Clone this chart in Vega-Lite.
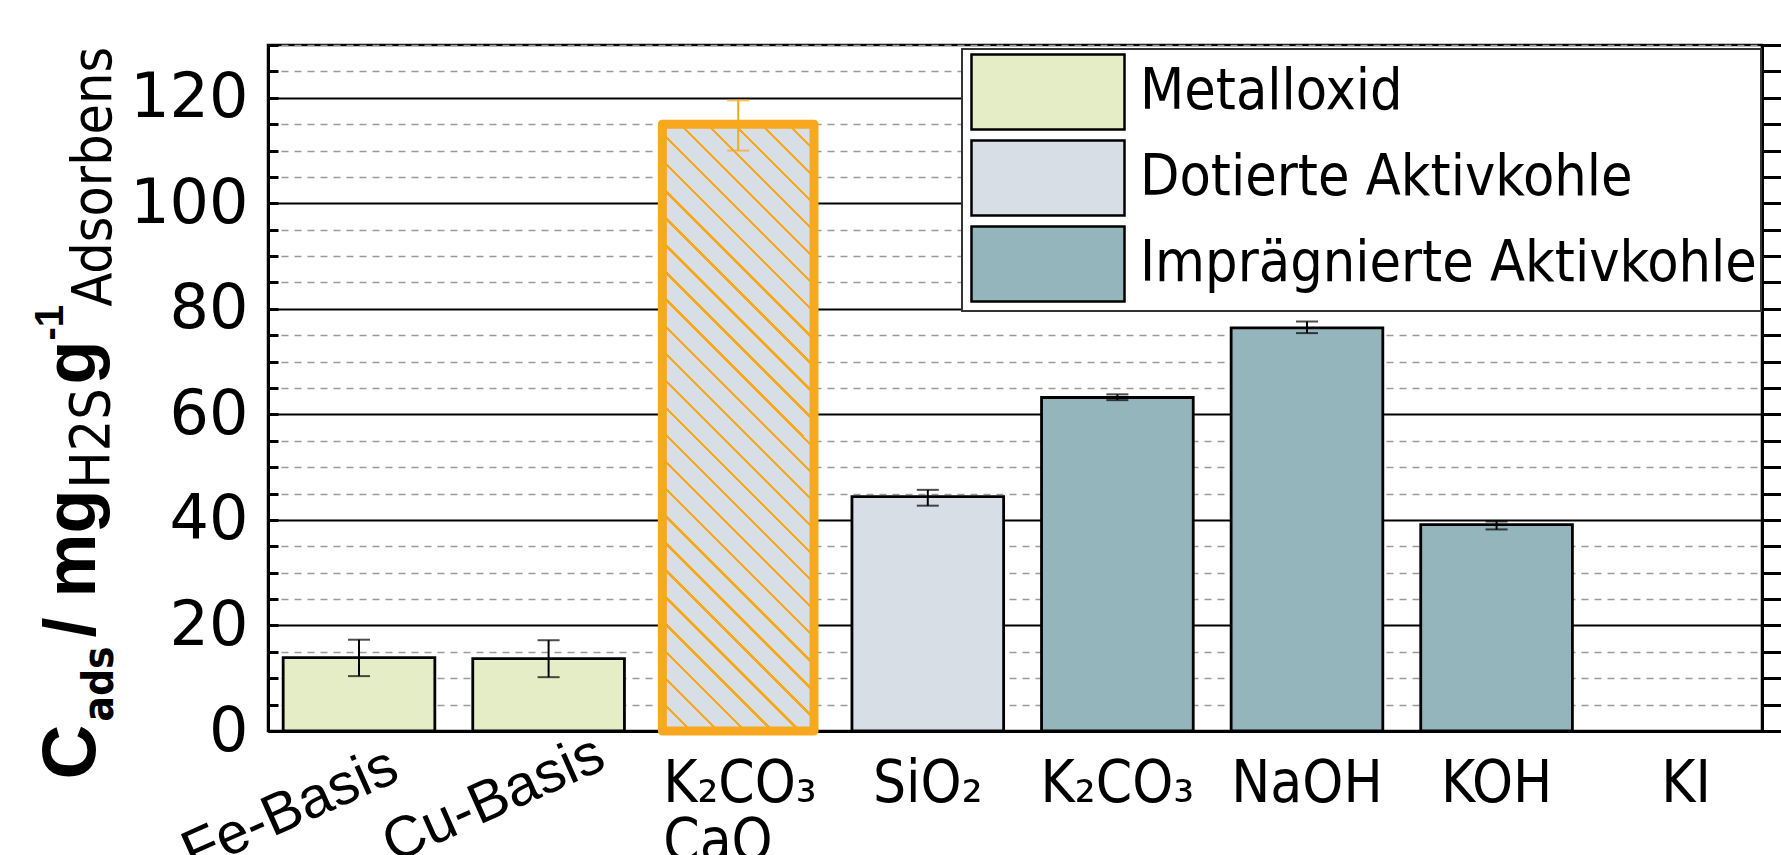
{
  "$schema": "https://vega.github.io/schema/vega-lite/v6.json",
  "width": 1494,
  "height": 686,
  "autosize": {"type": "none"},
  "padding": {"left": 268, "top": 45, "right": 19, "bottom": 124},
  "background": "white",
  "config": {"view": {"stroke": "black", "strokeWidth": 2.5}, "font": "DejaVu Sans"},
  "data": {
    "values": [
      {"Material": "Fe-Basis", "Gruppe": "Metalloxid", "Wert": 13.9, "Min": 10.4, "Max": 17.3},
      {"Material": "Cu-Basis", "Gruppe": "Metalloxid", "Wert": 13.7, "Min": 10.2, "Max": 17.2},
      {"Material": "K₂CO₃ CaO", "Gruppe": "Dotierte Aktivkohle", "Wert": 115.0, "Min": 110.0, "Max": 119.5},
      {"Material": "SiO₂", "Gruppe": "Dotierte Aktivkohle", "Wert": 44.4, "Min": 42.7, "Max": 45.7},
      {"Material": "K₂CO₃", "Gruppe": "Imprägnierte Aktivkohle", "Wert": 63.2, "Min": 62.7, "Max": 63.8},
      {"Material": "NaOH", "Gruppe": "Imprägnierte Aktivkohle", "Wert": 76.4, "Min": 75.4, "Max": 77.6},
      {"Material": "KOH", "Gruppe": "Imprägnierte Aktivkohle", "Wert": 39.1, "Min": 38.2, "Max": 39.7},
      {"Material": "KI", "Gruppe": "Imprägnierte Aktivkohle", "Wert": null, "Min": null, "Max": null}
    ]
  },
  "resolve": {"scale": {"x": "shared", "y": "shared"}, "axis": {"x": "independent", "y": "independent"}},
  "layer": [
    {
      "mark": {"type": "bar", "stroke": "black", "strokeWidth": 2.8},
      "encoding": {
        "x": {
          "field": "Material", "type": "nominal", "sort": null,
          "scale": {"domain": ["Fe-Basis", "Cu-Basis", "K₂CO₃ CaO", "SiO₂", "K₂CO₃", "NaOH", "KOH", "KI"], "paddingInner": 0.2, "paddingOuter": 0.04, "align": 1},
          "axis": {
            "orient": "bottom", "title": null, "ticks": false, "grid": false,
            "domain": true, "domainColor": "black", "domainWidth": 3,
            "labelFont": {"condition": {"test": "datum.value === 'Fe-Basis' || datum.value === 'Cu-Basis'", "value": "Liberation Sans"}, "value": "DejaVu Sans Condensed, sans-serif"},
            "labelFontSize": 58, "labelColor": "black", "labelLineHeight": 58,
            "labelLimit": 1000, "labelOverlap": false,
            "labelExpr": "split(datum.label, ' ')",
            "labelAngle": {"expr": "(datum.value === 'Fe-Basis' || datum.value === 'Cu-Basis') ? -24 : 0"},
            "labelBaseline": "top",
            "labelAlign": {"condition": [{"test": "datum.value === 'Fe-Basis' || datum.value === 'Cu-Basis'", "value": "right"}, {"test": "datum.value === 'K₂CO₃ CaO'", "value": "left"}], "value": "center"},
            "labelOffset": {"condition": [{"test": "datum.value === 'Fe-Basis'", "value": 24}, {"test": "datum.value === 'Cu-Basis'", "value": 41}, {"test": "datum.value === 'K₂CO₃ CaO'", "value": -75}], "value": 0},
            "labelPadding": {"condition": [{"test": "datum.value === 'Fe-Basis'", "value": 6}, {"test": "datum.value === 'Cu-Basis'", "value": -6}], "value": 24}
          }
        },
        "y": {
          "field": "Wert", "type": "quantitative",
          "scale": {"domain": [0, 130], "nice": false},
          "axis": {
            "orient": "left",
            "values": [0, 5, 10, 15, 20, 25, 30, 35, 40, 45, 50, 55, 60, 65, 70, 75, 80, 85, 90, 95, 100, 105, 110, 115, 120, 125, 130],
            "labelExpr": "datum.value % 20 === 0 ? datum.label : ''",
            "labelFont": "DejaVu Sans", "labelFontSize": 62, "labelColor": "black", "labelPadding": 30,
            "labelOverlap": false, "labelFlush": false,
            "tickSize": -10, "tickWidth": 3, "tickColor": "black",
            "domainColor": "black", "domainWidth": 3,
            "grid": true,
            "gridColor": {"condition": {"test": "datum.value % 20 === 0", "value": "black"}, "value": "#9a9a9a"},
            "gridDash": {"condition": {"test": "datum.value % 20 === 0", "value": []}, "value": [7, 6]},
            "gridWidth": {"condition": {"test": "datum.value % 20 === 0", "value": 2}, "value": 1.5},
            "title": "C", "titleX": -174, "titleY": 734, "titleAngle": 270, "titleAlign": "left", "titleBaseline": "alphabetic",
            "titleFont": "Liberation Sans", "titleFontWeight": "bold", "titleFontSize": 76, "titleColor": "black"
          }
        },
        "color": {
          "field": "Gruppe", "type": "nominal",
          "scale": {"domain": ["Metalloxid", "Dotierte Aktivkohle", "Imprägnierte Aktivkohle"], "range": ["#e5edc7", "#d7dee6", "#95b5bd"]},
          "legend": {
            "orient": "none", "legendX": 694, "legendY": 4, "title": null,
            "symbolType": "M-2.04,-1H2.04V1H-2.04Z", "symbolSize": 5625,
            "symbolStrokeColor": "black", "symbolStrokeWidth": 2.5, "symbolOpacity": 1,
            "symbolOffset": 43, "labelOffset": 53,
            "labelFont": "DejaVu Sans Condensed, sans-serif",
            "labelFontSize": 57, "labelColor": "black", "labelLimit": 1000,
            "rowPadding": 0, "padding": 4, "fillColor": "white", "strokeColor": "#333333",
            "encode": {"legend": {"update": {"strokeWidth": {"value": 2}}}}
          }
        }
      }
    },
    {
      "transform": [{"filter": "datum.Material === 'K₂CO₃ CaO'"}],
      "mark": {
        "type": "bar", "stroke": "#f7a81e", "strokeWidth": 9, "strokeJoin": "round",
        "fill": {
          "gradient": "linear", "x1": 0, "y1": 1, "x2": 0.294, "y2": -0.176,
          "stops": [
            {"offset": 0, "color": "#f7a81e"}, {"offset": 0.0045, "color": "#f7a81e"}, {"offset": 0.0045, "color": "#d7dee6"}, {"offset": 0.0357, "color": "#d7dee6"},
            {"offset": 0.0357, "color": "#f7a81e"}, {"offset": 0.0402, "color": "#f7a81e"}, {"offset": 0.0402, "color": "#d7dee6"}, {"offset": 0.0714, "color": "#d7dee6"},
            {"offset": 0.0714, "color": "#f7a81e"}, {"offset": 0.0759, "color": "#f7a81e"}, {"offset": 0.0759, "color": "#d7dee6"}, {"offset": 0.1071, "color": "#d7dee6"},
            {"offset": 0.1071, "color": "#f7a81e"}, {"offset": 0.1116, "color": "#f7a81e"}, {"offset": 0.1116, "color": "#d7dee6"}, {"offset": 0.1429, "color": "#d7dee6"},
            {"offset": 0.1429, "color": "#f7a81e"}, {"offset": 0.1474, "color": "#f7a81e"}, {"offset": 0.1474, "color": "#d7dee6"}, {"offset": 0.1786, "color": "#d7dee6"},
            {"offset": 0.1786, "color": "#f7a81e"}, {"offset": 0.1831, "color": "#f7a81e"}, {"offset": 0.1831, "color": "#d7dee6"}, {"offset": 0.2143, "color": "#d7dee6"},
            {"offset": 0.2143, "color": "#f7a81e"}, {"offset": 0.2188, "color": "#f7a81e"}, {"offset": 0.2188, "color": "#d7dee6"}, {"offset": 0.25, "color": "#d7dee6"},
            {"offset": 0.25, "color": "#f7a81e"}, {"offset": 0.2545, "color": "#f7a81e"}, {"offset": 0.2545, "color": "#d7dee6"}, {"offset": 0.2857, "color": "#d7dee6"},
            {"offset": 0.2857, "color": "#f7a81e"}, {"offset": 0.2902, "color": "#f7a81e"}, {"offset": 0.2902, "color": "#d7dee6"}, {"offset": 0.3214, "color": "#d7dee6"},
            {"offset": 0.3214, "color": "#f7a81e"}, {"offset": 0.3259, "color": "#f7a81e"}, {"offset": 0.3259, "color": "#d7dee6"}, {"offset": 0.3571, "color": "#d7dee6"},
            {"offset": 0.3571, "color": "#f7a81e"}, {"offset": 0.3616, "color": "#f7a81e"}, {"offset": 0.3616, "color": "#d7dee6"}, {"offset": 0.3929, "color": "#d7dee6"},
            {"offset": 0.3929, "color": "#f7a81e"}, {"offset": 0.3974, "color": "#f7a81e"}, {"offset": 0.3974, "color": "#d7dee6"}, {"offset": 0.4286, "color": "#d7dee6"},
            {"offset": 0.4286, "color": "#f7a81e"}, {"offset": 0.4331, "color": "#f7a81e"}, {"offset": 0.4331, "color": "#d7dee6"}, {"offset": 0.4643, "color": "#d7dee6"},
            {"offset": 0.4643, "color": "#f7a81e"}, {"offset": 0.4688, "color": "#f7a81e"}, {"offset": 0.4688, "color": "#d7dee6"}, {"offset": 0.5, "color": "#d7dee6"},
            {"offset": 0.5, "color": "#f7a81e"}, {"offset": 0.5045, "color": "#f7a81e"}, {"offset": 0.5045, "color": "#d7dee6"}, {"offset": 0.5357, "color": "#d7dee6"},
            {"offset": 0.5357, "color": "#f7a81e"}, {"offset": 0.5402, "color": "#f7a81e"}, {"offset": 0.5402, "color": "#d7dee6"}, {"offset": 0.5714, "color": "#d7dee6"},
            {"offset": 0.5714, "color": "#f7a81e"}, {"offset": 0.5759, "color": "#f7a81e"}, {"offset": 0.5759, "color": "#d7dee6"}, {"offset": 0.6071, "color": "#d7dee6"},
            {"offset": 0.6071, "color": "#f7a81e"}, {"offset": 0.6116, "color": "#f7a81e"}, {"offset": 0.6116, "color": "#d7dee6"}, {"offset": 0.6429, "color": "#d7dee6"},
            {"offset": 0.6429, "color": "#f7a81e"}, {"offset": 0.6474, "color": "#f7a81e"}, {"offset": 0.6474, "color": "#d7dee6"}, {"offset": 0.6786, "color": "#d7dee6"},
            {"offset": 0.6786, "color": "#f7a81e"}, {"offset": 0.6831, "color": "#f7a81e"}, {"offset": 0.6831, "color": "#d7dee6"}, {"offset": 0.7143, "color": "#d7dee6"},
            {"offset": 0.7143, "color": "#f7a81e"}, {"offset": 0.7188, "color": "#f7a81e"}, {"offset": 0.7188, "color": "#d7dee6"}, {"offset": 0.75, "color": "#d7dee6"},
            {"offset": 0.75, "color": "#f7a81e"}, {"offset": 0.7545, "color": "#f7a81e"}, {"offset": 0.7545, "color": "#d7dee6"}, {"offset": 0.7857, "color": "#d7dee6"},
            {"offset": 0.7857, "color": "#f7a81e"}, {"offset": 0.7902, "color": "#f7a81e"}, {"offset": 0.7902, "color": "#d7dee6"}, {"offset": 0.8214, "color": "#d7dee6"},
            {"offset": 0.8214, "color": "#f7a81e"}, {"offset": 0.8259, "color": "#f7a81e"}, {"offset": 0.8259, "color": "#d7dee6"}, {"offset": 0.8571, "color": "#d7dee6"},
            {"offset": 0.8571, "color": "#f7a81e"}, {"offset": 0.8616, "color": "#f7a81e"}, {"offset": 0.8616, "color": "#d7dee6"}, {"offset": 0.8929, "color": "#d7dee6"},
            {"offset": 0.8929, "color": "#f7a81e"}, {"offset": 0.8974, "color": "#f7a81e"}, {"offset": 0.8974, "color": "#d7dee6"}, {"offset": 0.9286, "color": "#d7dee6"},
            {"offset": 0.9286, "color": "#f7a81e"}, {"offset": 0.9331, "color": "#f7a81e"}, {"offset": 0.9331, "color": "#d7dee6"}, {"offset": 0.9643, "color": "#d7dee6"},
            {"offset": 0.9643, "color": "#f7a81e"}, {"offset": 0.9688, "color": "#f7a81e"}, {"offset": 0.9688, "color": "#d7dee6"}, {"offset": 1, "color": "#d7dee6"}
          ]
        }
      },
      "encoding": {
        "x": {
          "field": "Material", "type": "nominal", "sort": null,
          "scale": {"domain": ["Fe-Basis", "Cu-Basis", "K₂CO₃ CaO", "SiO₂", "K₂CO₃", "NaOH", "KOH", "KI"], "paddingInner": 0.2, "paddingOuter": 0.04, "align": 1},
          "axis": {
            "orient": "bottom", "labels": false, "ticks": false, "domain": false, "grid": false,
            "title": "ads", "titleX": -156, "titleY": -10, "titleAngle": 270, "titleAlign": "left", "titleBaseline": "alphabetic",
            "titleFont": "DejaVu Sans Condensed, sans-serif", "titleFontWeight": "bold", "titleFontSize": 42, "titleColor": "black"
          }
        },
        "y": {
          "field": "Wert", "type": "quantitative",
          "scale": {"domain": [0, 130], "nice": false},
          "axis": {
            "orient": "right",
            "values": [0, 5, 10, 15, 20, 25, 30, 35, 40, 45, 50, 55, 60, 65, 70, 75, 80, 85, 90, 95, 100, 105, 110, 115, 120, 125, 130],
            "labels": false, "grid": false, "title": null,
            "tickSize": 22, "tickWidth": 3, "tickColor": "black",
            "domain": true, "domainColor": "black", "domainWidth": 3
          }
        }
      }
    },
    {
      "mark": {"type": "rule", "strokeWidth": 2},
      "encoding": {
        "x": {
          "field": "Material", "type": "nominal", "sort": null,
          "scale": {"domain": ["Fe-Basis", "Cu-Basis", "K₂CO₃ CaO", "SiO₂", "K₂CO₃", "NaOH", "KOH", "KI"], "paddingInner": 0.2, "paddingOuter": 0.04, "align": 1},
          "axis": {
            "orient": "bottom", "labels": false, "ticks": false, "domain": false, "grid": false,
            "title": "H2S", "titleX": -160, "titleY": -243, "titleAngle": 270, "titleAlign": "left", "titleBaseline": "alphabetic",
            "titleFont": "DejaVu Sans Condensed, sans-serif", "titleFontWeight": "normal", "titleFontSize": 55, "titleColor": "black"
          }
        },
        "y": {
          "field": "Min", "type": "quantitative",
          "scale": {"domain": [0, 130], "nice": false},
          "axis": {
            "orient": "left", "labels": false, "ticks": false, "domain": false, "grid": false,
            "title": "/ mg", "titleX": -174, "titleY": 592, "titleAngle": 270, "titleAlign": "left", "titleBaseline": "alphabetic",
            "titleFont": "Liberation Sans", "titleFontWeight": "bold", "titleFontSize": 72, "titleColor": "black"
          }
        },
        "y2": {"field": "Max"},
        "color": {"condition": {"test": "datum.Material === 'K₂CO₃ CaO'", "value": "#f7a81e"}, "value": "black"}
      }
    },
    {
      "mark": {"type": "tick", "thickness": 2, "size": 22},
      "encoding": {
        "x": {
          "field": "Material", "type": "nominal", "sort": null,
          "scale": {"domain": ["Fe-Basis", "Cu-Basis", "K₂CO₃ CaO", "SiO₂", "K₂CO₃", "NaOH", "KOH", "KI"], "paddingInner": 0.2, "paddingOuter": 0.04, "align": 1},
          "axis": {
            "orient": "bottom", "labels": false, "ticks": false, "domain": false, "grid": false,
            "title": "-1", "titleX": -206, "titleY": -391, "titleAngle": 270, "titleAlign": "left", "titleBaseline": "alphabetic",
            "titleFont": "Liberation Sans", "titleFontWeight": "bold", "titleFontSize": 40, "titleColor": "black"
          }
        },
        "y": {
          "field": "Min", "type": "quantitative",
          "scale": {"domain": [0, 130], "nice": false},
          "axis": {
            "orient": "left", "labels": false, "ticks": false, "domain": false, "grid": false,
            "title": "g", "titleX": -174, "titleY": 339, "titleAngle": 270, "titleAlign": "left", "titleBaseline": "alphabetic",
            "titleFont": "Liberation Sans", "titleFontWeight": "bold", "titleFontSize": 72, "titleColor": "black"
          }
        },
        "color": {"condition": {"test": "datum.Material === 'K₂CO₃ CaO'", "value": "#f7a81e"}, "value": "black"}
      }
    },
    {
      "mark": {"type": "tick", "thickness": 2, "size": 22},
      "encoding": {
        "x": {
          "field": "Material", "type": "nominal", "sort": null,
          "scale": {"domain": ["Fe-Basis", "Cu-Basis", "K₂CO₃ CaO", "SiO₂", "K₂CO₃", "NaOH", "KOH", "KI"], "paddingInner": 0.2, "paddingOuter": 0.04, "align": 1},
          "axis": null
        },
        "y": {
          "field": "Max", "type": "quantitative",
          "scale": {"domain": [0, 130], "nice": false},
          "axis": {
            "orient": "left", "labels": false, "ticks": false, "domain": false, "grid": false,
            "title": "Adsorbens", "titleX": -158, "titleY": 261, "titleAngle": 270, "titleAlign": "left", "titleBaseline": "alphabetic",
            "titleFont": "DejaVu Sans Condensed, sans-serif", "titleFontWeight": "normal", "titleFontSize": 55, "titleColor": "black"
          }
        },
        "color": {"condition": {"test": "datum.Material === 'K₂CO₃ CaO'", "value": "#f7a81e"}, "value": "black"}
      }
    }
  ]
}
